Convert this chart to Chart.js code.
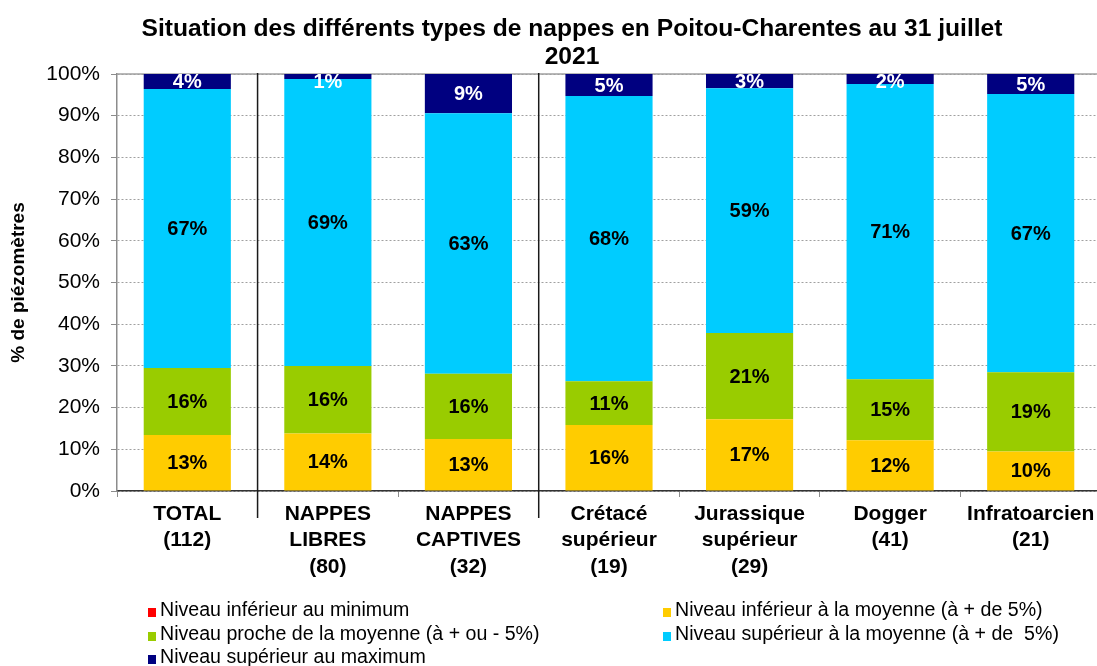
<!DOCTYPE html>
<html lang="fr">
<head>
<meta charset="utf-8">
<title>Situation des nappes en Poitou-Charentes</title>
<script src="https://cdn.jsdelivr.net/npm/chart.js@4.4.1/dist/chart.umd.min.js"></script>
<style>
  html, body { margin: 0; padding: 0; background: #fff; overflow: hidden; }
  #wrap { position: relative; width: 1097px; height: 666px; }
  #chart { position: absolute; left: 0; top: 0; }
  #title {
    position: absolute; left: 0; top: 14px; width: 1144px;
    text-align: center; font: bold 24.6px "Liberation Sans", Arial, sans-serif;
    line-height: 28px; color: #000;
  }
  .leg-item {
    position: absolute; font: 19.6px "Liberation Sans", Arial, sans-serif;
    line-height: 23px; color: #000; white-space: pre;
  }
  .leg-box { display: inline-block; width: 8px; height: 9px; margin-right: 4px; vertical-align: -1px; }
</style>
</head>
<body>
<div id="wrap">
  <canvas id="chart" width="1102" height="666"></canvas>
  <div id="title">Situation des différents types de nappes en Poitou-Charentes au 31 juillet<br>2021</div>
  <div id="legend"></div>
</div>
<script>
// categories (number of piezometers in brackets)
const categories = [
  ['TOTAL', '(112)'],
  ['NAPPES', 'LIBRES', '(80)'],
  ['NAPPES', 'CAPTIVES', '(32)'],
  ['Crétacé', 'supérieur', '(19)'],
  ['Jurassique', 'supérieur', '(29)'],
  ['Dogger', '(41)'],
  ['Infratoarcien', '(21)']
];
// groups start at these category indexes (vertical separators)
const groupBreaks = [1, 3];

const seriesNames = [
  'Niveau inférieur au minimum',
  'Niveau inférieur à la moyenne (à + de 5%)',
  'Niveau proche de la moyenne (à + ou - 5%)',
  'Niveau supérieur à la moyenne (à + de  5%)',
  'Niveau supérieur au maximum'
];

// % of piezometers
const belowMin = [0, 0, 0, 0, 0, 0, 0];
const belowAvg = [13.4, 13.8, 12.5, 15.8, 17.2, 12.2, 9.5];
const nearAvg  = [16.1, 16.2, 15.6, 10.5, 20.7, 14.6, 19.0];
const aboveAvg = [66.9, 68.8, 62.5, 68.4, 58.7, 70.8, 66.7];
const aboveMax = [3.6, 1.2, 9.4, 5.3, 3.4, 2.4, 4.8];

const FONT = '"Liberation Sans", Arial, sans-serif';

const seriesColors = ['#FF0000', '#FFCC00', '#99CC00', '#00CCFF', '#000080'];
const labelColors  = ['#000', '#000', '#000', '#000', '#fff'];
const seriesData   = [belowMin, belowAvg, nearAvg, aboveAvg, aboveMax];

// values written in the middle of each segment
const segmentLabels = {
  id: 'segmentLabels',
  afterDatasetsDraw(chart) {
    const ctx = chart.ctx;
    ctx.save();
    ctx.font = 'bold 20px ' + FONT;
    ctx.textAlign = 'center';
    ctx.textBaseline = 'middle';
    chart.data.datasets.forEach((ds, di) => {
      chart.getDatasetMeta(di).data.forEach((bar, i) => {
        const v = ds.data[i];
        if (!v) return;
        ctx.fillStyle = ds.labelColor;
        // keep tiny top segments' labels readable below the frame
        const y = Math.max((bar.y + bar.base) / 2 + 1, chart.chartArea.top + 8);
        ctx.fillText(Math.round(v) + '%', bar.x, y);
      });
    });
    ctx.restore();
  }
};

// plot top border + group separators
const frameLines = {
  id: 'frameLines',
  beforeDatasetsDraw(chart) {
    const {ctx, chartArea} = chart;
    ctx.save();
    ctx.strokeStyle = '#a0a0a0';
    ctx.lineWidth = 1.5;
    ctx.beginPath();
    ctx.moveTo(chartArea.left, chartArea.top);
    ctx.lineTo(chartArea.right, chartArea.top);
    ctx.stroke();
    ctx.restore();
  },
  afterDraw(chart) {
    const {ctx, chartArea} = chart;
    const x = chart.scales.x;
    ctx.save();
    ctx.strokeStyle = '#1a1a1a';
    ctx.lineWidth = 1.5;
    groupBreaks.forEach(b => {
      const px = x.getPixelForValue(b - 0.5);
      ctx.beginPath();
      ctx.moveTo(px, chartArea.top - 1);
      ctx.lineTo(px, chartArea.bottom + 27);
      ctx.stroke();
    });
    ctx.restore();
  }
};

new Chart(document.getElementById('chart'), {
  type: 'bar',
  data: {
    labels: categories,
    datasets: seriesNames.map((name, i) => ({
      label: name,
      data: seriesData[i],
      backgroundColor: seriesColors[i],
      labelColor: labelColors[i],
      borderWidth: 0,
      barPercentage: 0.62,
      categoryPercentage: 1.0
    }))
  },
  options: {
    responsive: false,
    animation: false,
    layout: { padding: { top: 74, right: 1, bottom: 0, left: 0 } },
    plugins: {
      legend: { display: false },
      title: { display: false },
      tooltip: { enabled: false }
    },
    scales: {
      x: {
        stacked: true,
        grid: { drawOnChartArea: false, drawTicks: true, tickLength: 6, tickColor: '#8c8c8c', offset: true },
        border: { color: '#333', width: 1.5 },
        ticks: { color: '#000', font: { family: FONT, size: 21, weight: 'bold', lineHeight: 1.26 }, padding: 4, maxRotation: 0, autoSkip: false },
        afterFit(s) { s.height = 175; }
      },
      y: {
        stacked: true,
        min: 0,
        max: 100,
        ticks: { stepSize: 10, callback: v => v + '%', color: '#000', font: { family: FONT, size: 21 }, padding: 11 },
        grid: { color: '#a0a0a0', tickColor: '#8c8c8c', tickLength: 6, lineWidth: 1 },
        border: { color: '#8c8c8c', width: 1.5, dash: [2, 2] },
        title: { display: true, text: '% de piézomètres', color: '#000', font: { family: FONT, size: 19, weight: 'bold' }, padding: { top: 7, bottom: 0 } },
        afterFit(s) { s.width = 117; }
      }
    }
  },
  plugins: [segmentLabels, frameLines]
});

// legend in two columns, built from the series
const legendCols = [148, 663];
const legendTop = 598, legendRow = 23.5;
const legend = document.getElementById('legend');
seriesNames.forEach((name, i) => {
  const item = document.createElement('div');
  item.className = 'leg-item';
  item.style.left = legendCols[i % 2] + 'px';
  item.style.top = (legendTop + Math.floor(i / 2) * legendRow) + 'px';
  const box = document.createElement('span');
  box.className = 'leg-box';
  box.style.background = seriesColors[i];
  item.appendChild(box);
  item.appendChild(document.createTextNode(name));
  legend.appendChild(item);
});
</script>
</body>
</html>
